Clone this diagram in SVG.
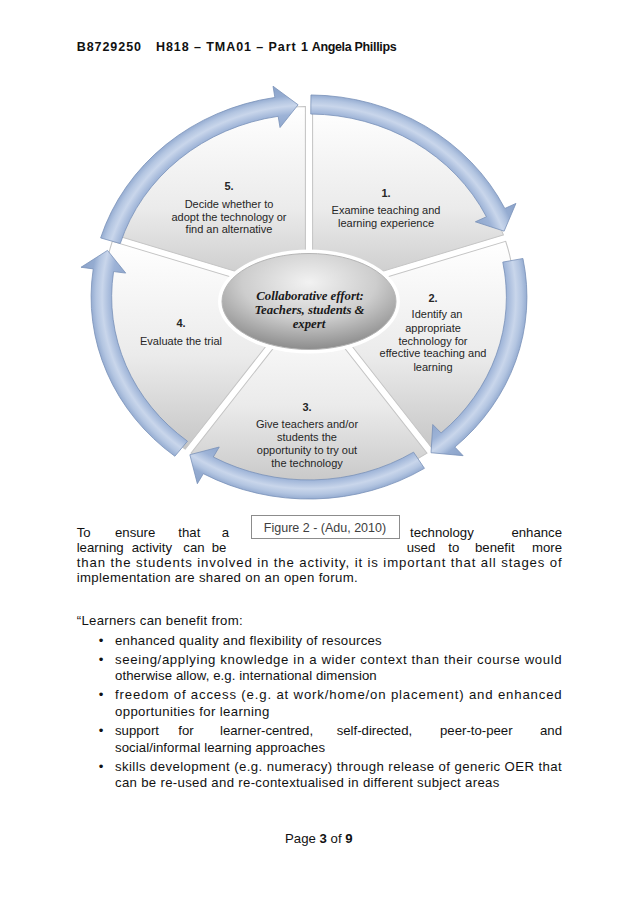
<svg xmlns="http://www.w3.org/2000/svg" width="638" height="903" viewBox="0 0 638 903">
<defs>
<style>
.body{font-family:"Liberation Sans",Arial,sans-serif;font-size:13.2px;fill:#111}
.hdr{font-family:"Liberation Sans",Arial,sans-serif;font-size:12.5px;font-weight:bold;fill:#111}
.lbl{font-family:"Liberation Sans",Arial,sans-serif;font-size:11px;fill:#262626;text-anchor:middle}
.num{font-weight:bold}
.ctr{font-family:"Liberation Serif","Times New Roman",serif;font-style:italic;font-weight:bold;font-size:12.8px;fill:#1a1a1a;text-anchor:middle}
.band{fill:url(#bandG);stroke:#7890b8;stroke-width:0.8}
.wedge{fill:url(#wedgeG);stroke:#c4c4c4;stroke-width:1}
.cap{font-family:"Liberation Sans",Arial,sans-serif;font-size:12.5px;fill:#404040;text-anchor:middle}
</style>
<radialGradient id="bandG" gradientUnits="userSpaceOnUse" cx="0" cy="0" r="230">
<stop offset="0.78" stop-color="#8ea6cc"/>
<stop offset="0.835" stop-color="#9db3d7"/>
<stop offset="0.875" stop-color="#c9d6eb"/>
<stop offset="0.9" stop-color="#b3c5e1"/>
<stop offset="0.922" stop-color="#95acd1"/>
<stop offset="0.975" stop-color="#8aa2c9"/>
</radialGradient>
<linearGradient id="wedgeG" x1="0" y1="0" x2="0" y2="1">
<stop offset="0" stop-color="#ffffff"/>
<stop offset="0.55" stop-color="#ebebeb"/>
<stop offset="1" stop-color="#c6c6c6"/>
</linearGradient>
<radialGradient id="ellG" cx="50%" cy="30%" r="70%">
<stop offset="0" stop-color="#f2f2f2"/>
<stop offset="0.55" stop-color="#cdcdcd"/>
<stop offset="1" stop-color="#8c8c8c"/>
</radialGradient>
</defs>
<rect width="638" height="903" fill="#ffffff"/>

<g id="header">
<text class="hdr" x="76.7" y="51" textLength="64.3">B8729250</text>
<text class="hdr" x="156" y="51" textLength="152">H818 – TMA01 – Part 1</text>
<text class="hdr" x="311.7" y="51" textLength="85">Angela Phillips</text>
</g>

<g id="cycle">
<g transform="translate(309,297) scale(1.028,0.953)">
<g id="step1-bg"><path class="wedge" d="M3.5 -4.9 L3.5 -200 A200 200 0 0 1 189.1 -65.1 Z"/></g>
<g id="step2-bg"><path class="wedge" d="M5.7 1.9 L191.3 -58.5 A200 200 0 0 1 120.4 159.7 Z"/></g>
<g id="step3-bg"><path class="wedge" d="M0 6 L114.8 163.9 A200 200 0 0 1 -114.8 163.9 Z"/></g>
<g id="step4-bg"><path class="wedge" d="M-5.7 1.9 L-120.4 159.7 A200 200 0 0 1 -191.3 -58.5 Z"/></g>
<g id="step5-bg"><path class="wedge" d="M-3.5 -4.9 L-189.1 -65.1 A200 200 0 0 1 -3.5 -200 Z"/></g>
<g id="connectors">
<path class="band" d="M1.9 -212 A212 212 0 0 1 190.5 -92.9 L201.3 -98.2 L189.8 -69.1 L161.8 -78.9 L172.6 -84.2 A192 192 0 0 0 1.7 -192 Z"/>
<path class="band" d="M208.1 -40.4 A212 212 0 0 1 141.9 157.5 L149.9 166.5 L118.7 163.4 L120.4 133.8 L128.5 142.7 A192 192 0 0 0 188.5 -36.6 Z"/>
<path class="band" d="M112.3 179.8 A212 212 0 0 1 -102.8 185.4 L-108.6 195.9 L-115.9 165.5 L-87.3 157.4 L-93.1 167.9 A192 192 0 0 0 101.7 162.8 Z"/>
<path class="band" d="M-130.5 167.1 A212 212 0 0 1 -209.9 -29.5 L-221.8 -31.2 L-196 -48.9 L-178.3 -25.1 L-190.1 -26.7 A192 192 0 0 0 -118.2 151.3 Z"/>
<path class="band" d="M-202.7 -62 A212 212 0 0 1 -33.2 -209.4 L-35 -221.2 L-10.6 -201.7 L-28.2 -177.8 L-30 -189.6 A192 192 0 0 0 -183.6 -56.1 Z"/>
</g>
</g>

<g id="centre">
<ellipse cx="309" cy="301.5" rx="91" ry="52" fill="#ffffff"/>
<ellipse cx="309" cy="301.5" rx="87" ry="48" fill="url(#ellG)" stroke="#b5b5b5" stroke-width="1"/>
<text class="ctr" x="310" y="299.5">Collaborative effort:</text>
<text class="ctr" x="309.5" y="313.8">Teachers, students &amp;</text>
<text class="ctr" x="309" y="328.1">expert</text>
</g>

<g id="step1">
<text class="lbl num" x="386" y="197">1.</text>
<text class="lbl" x="386" y="214">Examine teaching and</text>
<text class="lbl" x="386" y="226.5">learning experience</text>
</g>
<g id="step2">
<text class="lbl num" x="433" y="302">2.</text>
<text class="lbl" x="437" y="318">Identify an</text>
<text class="lbl" x="433" y="331.5">appropriate</text>
<text class="lbl" x="433" y="344.5">technology for</text>
<text class="lbl" x="433" y="357">effective teaching and</text>
<text class="lbl" x="433" y="370.5">learning</text>
</g>
<g id="step3">
<text class="lbl num" x="307" y="410.5">3.</text>
<text class="lbl" x="307" y="428">Give teachers and/or</text>
<text class="lbl" x="307" y="440.5">students the</text>
<text class="lbl" x="307" y="454">opportunity to try out</text>
<text class="lbl" x="307" y="466.5">the technology</text>
</g>
<g id="step4">
<text class="lbl num" x="181" y="327">4.</text>
<text class="lbl" x="181" y="344.5">Evaluate the trial</text>
</g>
<g id="step5">
<text class="lbl num" x="229" y="190">5.</text>
<text class="lbl" x="229" y="208">Decide whether to</text>
<text class="lbl" x="229" y="220.5">adopt the technology or</text>
<text class="lbl" x="229" y="233">find an alternative</text>
</g>
</g>

<g id="caption">
<rect x="251.5" y="515.5" width="148" height="23" fill="#ffffff" stroke="#8c8c8c" stroke-width="1"/>
<text class="cap" x="325" y="531.5">Figure 2 - (Adu, 2010)</text>
</g>

<g id="text">
<text class="body" y="537"><tspan x="76.7">To</tspan><tspan x="115">ensure</tspan><tspan x="178.3">that</tspan><tspan x="221.7">a</tspan><tspan x="410">technology</tspan></text>
<text class="body" x="562" y="537" text-anchor="end">enhance</text>
<text class="body" y="552"><tspan x="76.7">learning</tspan><tspan x="131.7">activity</tspan><tspan x="183.3">can</tspan><tspan x="211.7">be</tspan><tspan x="406.7">used</tspan><tspan x="448.3">to</tspan><tspan x="475">benefit</tspan></text>
<text class="body" x="562" y="552" text-anchor="end">more</text>
<text class="body" x="76.7" y="567" textLength="485">than the students involved in the activity, it is important that all stages of</text>
<text class="body" x="76.7" y="581.5" textLength="281">implementation are shared on an open forum.</text>
<text class="body" x="76.7" y="625" textLength="166">“Learners can benefit from:</text>

<g id="bullets" class="body" text-anchor="middle">
<text x="101" y="644.5">•</text>
<text x="101" y="663.5">•</text>
<text x="101" y="699">•</text>
<text x="101" y="735">•</text>
<text x="101" y="770.5">•</text>
</g>
<text class="body" x="115" y="644.5" textLength="266.7">enhanced quality and flexibility of resources</text>
<text class="body" x="115" y="663.5" textLength="446.7">seeing/applying knowledge in a wider context than their course would</text>
<text class="body" x="115" y="680" textLength="261.7">otherwise allow, e.g. international dimension</text>
<text class="body" x="115" y="699" textLength="446.7">freedom of access (e.g. at work/home/on placement) and enhanced</text>
<text class="body" x="115" y="716" textLength="154.3">opportunities for learning</text>
<text class="body" y="735"><tspan x="115">support</tspan><tspan x="178.3">for</tspan><tspan x="220">learner-centred,</tspan><tspan x="336.7">self-directed,</tspan><tspan x="440">peer-to-peer</tspan></text>
<text class="body" x="562" y="735" text-anchor="end">and</text>
<text class="body" x="115" y="751.5" textLength="210">social/informal learning approaches</text>
<text class="body" x="115" y="770.5" textLength="446.7">skills development (e.g. numeracy) through release of generic OER that</text>
<text class="body" x="115" y="787" textLength="384.3">can be re-used and re-contextualised in different subject areas</text>
</g>

<g id="footer">
<text class="body" x="285" y="843" textLength="67.7">Page <tspan font-weight="bold">3</tspan> of <tspan font-weight="bold">9</tspan></text>
</g>
</svg>
